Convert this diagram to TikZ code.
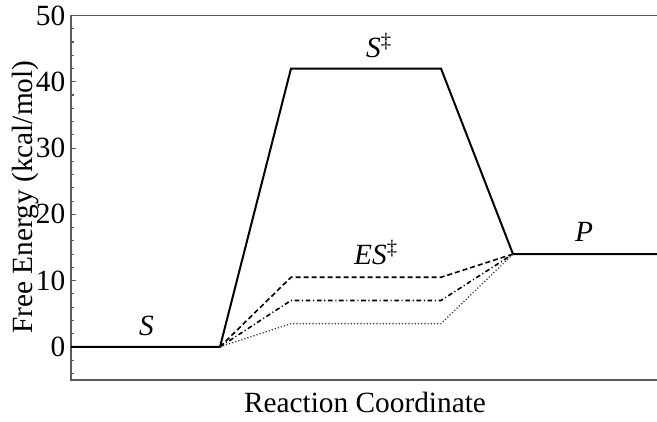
\documentclass[tikz,border=0pt]{standalone}
\usepackage{fontspec}
\setmainfont{Liberation Serif}
\usepackage{tikz}

\tikzset{
  frame/.style={draw=black!65, line width=0.8pt},
  path/.style={line width=1.5pt},
  dashpath/.style={line width=1.2pt, dash pattern=on 3.8pt off 2.2pt},
  dotdashpath/.style={line width=1.2pt, dash pattern=on 3.5pt off 2pt on 0.8pt off 2pt},
  dotpath/.style={line width=1pt, black!75, dash pattern=on 0.9pt off 1.5pt}
}

\begin{document}
\begin{tikzpicture}[x=0.75pt, y=4.97pt, font=\fontsize{22}{26}\selectfont]
\useasboundingbox (0,-11.31) rectangle (657,52.34);
% frame and ticks
\draw[frame] (657,50) -- (71,50) -- (71,-5) -- (657,-5);
\foreach \e in {-4,-2,...,48} \draw[frame] (71,\e) -- (74,\e);
\foreach \e in {0,10,...,50} {
  \draw[frame] (71,\e) -- (76,\e);
  \node[anchor=east, inner sep=0pt] (tick\e) at (65.5,\e) {\e};
}
\node[anchor=base] (xlabel) at (365,-9.9) {Reaction Coordinate};
\node[anchor=base, rotate=90] (ylabel) at (32,22.6) {Free Energy (kcal/mol)};

% uncatalysed path
\draw[path] (71,0) -- (220,0) -- (291,42) -- (441,42) -- (513,14) -- (657,14);
% catalysed paths
\draw[dashpath] (220,0) -- (291,10.5) -- (441,10.5) -- (513,14);
\draw[dotdashpath] (220,0) -- (291,7) -- (441,7) -- (513,14);
\draw[dotpath] (220,0) -- (291,3.5) -- (441,3.5) -- (513,14);

\node[anchor=base] (S) at (146.5,1.7) {\textit{S}};
\node[anchor=base] (TS) at (379,43.7) {\textit{S}\textsuperscript{\ddag}};
\node[anchor=base] (ETS) at (376,12.4) {\textit{ES}\textsuperscript{\ddag}};
\node[anchor=base] (P) at (584,15.9) {\textit{P}};
\end{tikzpicture}
\end{document}
